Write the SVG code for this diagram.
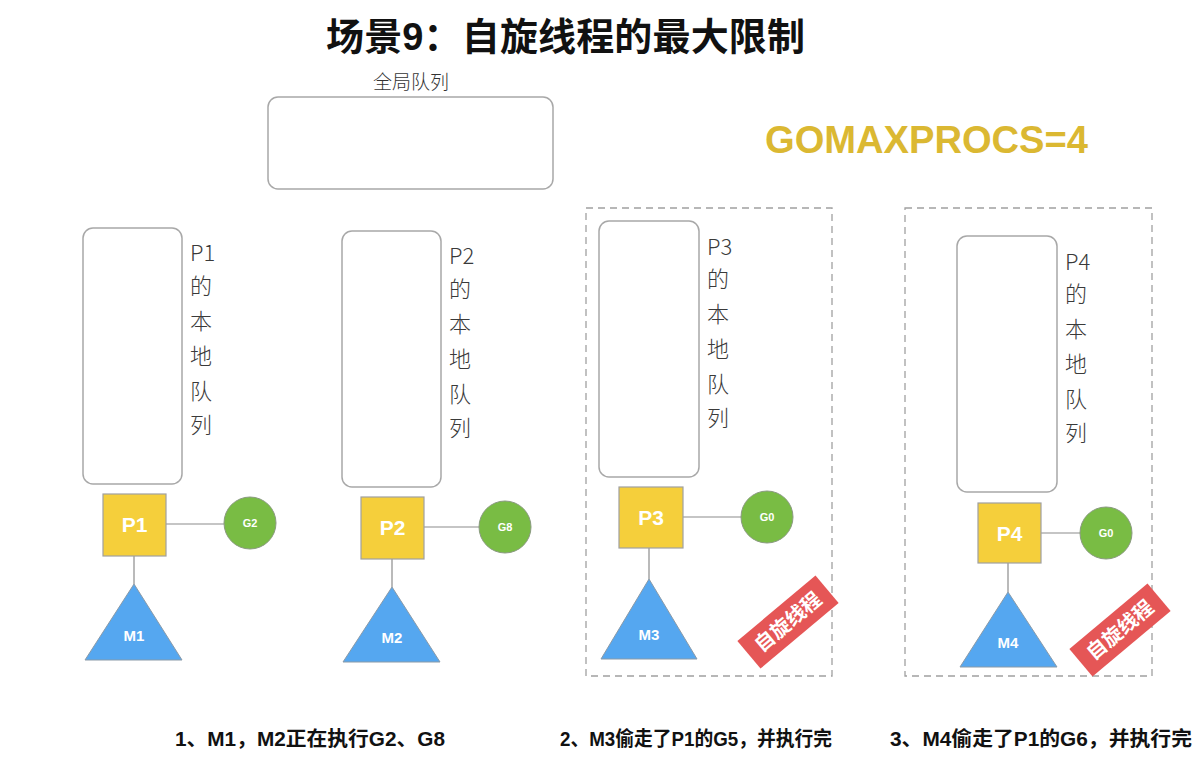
<svg xmlns="http://www.w3.org/2000/svg" width="1200" height="772" viewBox="0 0 1200 772">
<style>
.t{font-family:"Liberation Sans","Noto Sans CJK SC",sans-serif}
.q{fill:#fff;stroke:#a8a8a8;stroke-width:1.5}
.p{fill:#F5CF3B;stroke:#a0a0a0;stroke-width:1.2}
.g{fill:#79BC44;stroke:#8a9a80;stroke-width:1}
.m{fill:#55A7F0;stroke:#8a9aa8;stroke-width:1}
.ln{stroke:#8c8c8c;stroke-width:1.2;fill:none}
.vl{font-family:"Noto Sans CJK SC","Liberation Sans",sans-serif;font-size:22px;fill:#3a3a3a;font-weight:300}
.pl{font-family:"Liberation Sans",sans-serif;font-size:21px;font-weight:bold;fill:#fff}
.gl{font-family:"Liberation Sans",sans-serif;font-size:11px;font-weight:bold;fill:#fff}
.ml{font-family:"Liberation Sans",sans-serif;font-size:15px;font-weight:bold;fill:#fff}
.dash{fill:none;stroke:#a0a0a0;stroke-width:1.3;stroke-dasharray:7 5}
.cap{font-family:"Liberation Sans","Noto Sans CJK SC",sans-serif;font-size:20px;font-weight:bold;fill:#111}
.bd{fill:#E55656}
.bt{font-family:"Noto Sans CJK SC",sans-serif;font-size:20px;font-weight:bold;fill:#fff}
</style>
<rect width="1200" height="772" fill="#fff"/>
<text class="t" x="326" y="50" font-size="38" font-weight="bold" fill="#111" textLength="479" lengthAdjust="spacing">场景9：自旋线程的最大限制</text>
<g id="global">
<text x="411" y="89" text-anchor="middle" style="font-family:'Noto Sans CJK SC',sans-serif;font-size:19px;fill:#333;font-weight:300">全局队列</text>
<rect class="q" x="268" y="97" width="285" height="92" rx="10"/>
</g>
<text class="t" x="765" y="153" font-size="38" font-weight="bold" fill="#DBB832" textLength="323" lengthAdjust="spacingAndGlyphs">GOMAXPROCS=4</text>
<g id="connectors">
<line class="ln" x1="166" y1="524" x2="224" y2="524"/>
<line class="ln" x1="134" y1="556" x2="134" y2="584"/>
<line class="ln" x1="424" y1="527" x2="479" y2="527"/>
<line class="ln" x1="392" y1="559" x2="392" y2="587"/>
<line class="ln" x1="683" y1="517" x2="741" y2="517"/>
<line class="ln" x1="649" y1="548" x2="649" y2="579"/>
<line class="ln" x1="1041" y1="533" x2="1080" y2="533"/>
<line class="ln" x1="1008" y1="563" x2="1008" y2="592"/>
</g>
<g id="col1">
<rect class="q" x="83" y="228" width="99" height="256" rx="10"/>
<text class="vl"><tspan x="190" y="261">P1</tspan><tspan x="190" y="294">的</tspan><tspan x="190" y="329">本</tspan><tspan x="190" y="364">地</tspan><tspan x="190" y="399">队</tspan><tspan x="190" y="433">列</tspan></text>
</g>
<g id="P1"><rect class="p" x="103" y="494" width="63" height="62"/><text class="pl" x="134.5" y="532" text-anchor="middle">P1</text></g>
<g id="G2"><circle class="g" cx="250" cy="523" r="26"/><text class="gl" x="250" y="527" text-anchor="middle">G2</text></g>
<g id="M1"><polygon class="m" points="134,584 85,660 182,660"/><text class="ml" x="134" y="641" text-anchor="middle">M1</text></g>

<g id="col2">
<rect class="q" x="342" y="231" width="99" height="256" rx="10"/>
<text class="vl"><tspan x="449" y="264">P2</tspan><tspan x="449" y="297">的</tspan><tspan x="449" y="332">本</tspan><tspan x="449" y="367">地</tspan><tspan x="449" y="402">队</tspan><tspan x="449" y="436">列</tspan></text>
</g>
<g id="P2"><rect class="p" x="361" y="497" width="63" height="62"/><text class="pl" x="392.5" y="535" text-anchor="middle">P2</text></g>
<g id="G8"><circle class="g" cx="505" cy="527" r="26"/><text class="gl" x="505" y="531" text-anchor="middle">G8</text></g>
<g id="M2"><polygon class="m" points="392,587 343,662 440,662"/><text class="ml" x="392" y="643" text-anchor="middle">M2</text></g>

<g id="col3">
<rect class="dash" x="586" y="208" width="246" height="468"/>
<rect class="q" x="599" y="221" width="100" height="256" rx="10"/>
<text class="vl"><tspan x="707" y="255">P3</tspan><tspan x="707" y="287">的</tspan><tspan x="707" y="322">本</tspan><tspan x="707" y="357">地</tspan><tspan x="707" y="392">队</tspan><tspan x="707" y="426">列</tspan></text>
</g>
<g id="P3"><rect class="p" x="619" y="487" width="64" height="61"/><text class="pl" x="651" y="525" text-anchor="middle">P3</text></g>
<g id="G0a"><circle class="g" cx="767" cy="517" r="26"/><text class="gl" x="767" y="521" text-anchor="middle">G0</text></g>
<g id="M3"><polygon class="m" points="649,579 601,659 697,659"/><text class="ml" x="649" y="640" text-anchor="middle">M3</text></g>
<g id="badge3" transform="translate(788,622) rotate(-40)"><rect class="bd" x="-51" y="-18" width="102" height="36"/><text class="bt" x="0" y="7" text-anchor="middle">自旋线程</text></g>

<g id="col4">
<rect class="dash" x="905" y="208" width="247" height="468"/>
<rect class="q" x="957" y="236" width="100" height="256" rx="10"/>
<text class="vl"><tspan x="1065" y="270">P4</tspan><tspan x="1065" y="302">的</tspan><tspan x="1065" y="337">本</tspan><tspan x="1065" y="372">地</tspan><tspan x="1065" y="407">队</tspan><tspan x="1065" y="441">列</tspan></text>
</g>
<g id="P4"><rect class="p" x="978" y="503" width="63" height="60"/><text class="pl" x="1009.5" y="541" text-anchor="middle">P4</text></g>
<g id="G0b"><circle class="g" cx="1106" cy="533" r="26"/><text class="gl" x="1106" y="537" text-anchor="middle">G0</text></g>
<g id="M4"><polygon class="m" points="1008,592 960,667 1057,667"/><text class="ml" x="1008" y="648" text-anchor="middle">M4</text></g>
<g id="badge4" transform="translate(1120,630) rotate(-40)"><rect class="bd" x="-51" y="-18" width="102" height="36"/><text class="bt" x="0" y="7" text-anchor="middle">自旋线程</text></g>

<text class="cap" x="175" y="746" textLength="270" lengthAdjust="spacingAndGlyphs">1、M1，M2正在执行G2、G8</text>
<text class="cap" x="560" y="746" textLength="272" lengthAdjust="spacingAndGlyphs">2、M3偷走了P1的G5，并执行完</text>
<text class="cap" x="890" y="746" textLength="302" lengthAdjust="spacingAndGlyphs">3、M4偷走了P1的G6，并执行完</text>
</svg>
